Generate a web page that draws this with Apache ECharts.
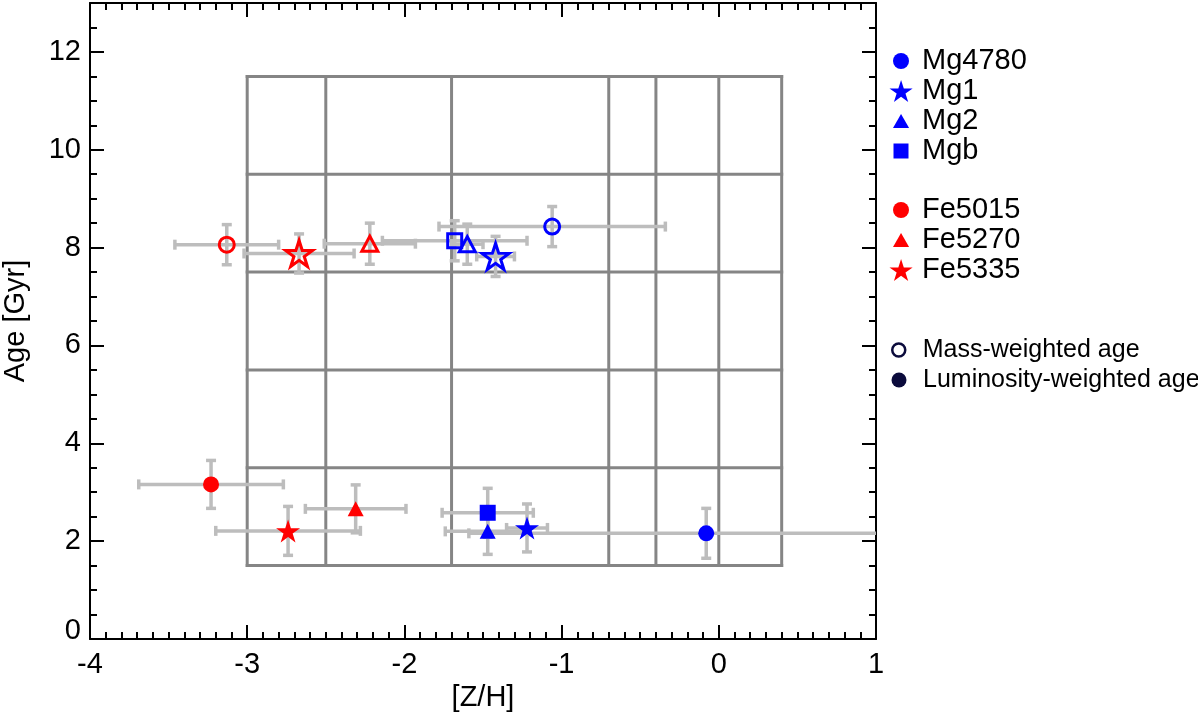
<!DOCTYPE html>
<html>
<head>
<meta charset="utf-8">
<title>Age vs [Z/H]</title>
<script src="https://cdn.jsdelivr.net/npm/echarts@6/dist/echarts.min.js"></script>
<style>
  html, body { margin: 0; padding: 0; background: #fff; }
  #chart { width: 1198px; height: 717px; }
</style>
</head>
<body>
<div id="chart"></div>
<script>
// line-strength indices used for the fits
const indexNames = ['Mg4780', 'Mg1', 'Mg2', 'Mgb', 'Fe5015', 'Fe5270', 'Fe5335'];

// mass-weighted ages (open symbols)
const massZ      = [-1.06, -1.42, -1.60, -1.68, -3.13, -2.22, -2.67];
const massZErr   = [ 0.72,  0.12,  0.10,  0.46,  0.33,  0.29,  0.35];
const massAge    = [ 8.43,  7.82,  8.07,  8.14,  8.06,  8.08,  7.88];
const massAgeErr = [ 0.41,  0.41,  0.41,  0.41,  0.41,  0.42,  0.40];

// luminosity-weighted ages (filled symbols)
const lumZ      = [-0.08, -1.22, -1.47, -1.47, -3.23, -2.31, -2.74];
const lumZErr   = [ 1.51,  0.13,  0.27,  0.29,  0.46,  0.32,  0.46];
const lumAge    = [ 2.16,  2.27,  2.20,  2.58,  3.16,  2.66,  2.21];
const lumAgeErr = [ 0.51,  0.49,  0.47,  0.50,  0.49,  0.49,  0.50];

// SSP model grid
const gridZ   = [-3, -2.5, -1.7, -0.7, -0.4, 0, 0.4];
const gridAge = [1.5, 3.5, 5.5, 7.5, 9.5, 11.5];

const ageTypes = ['Mass-weighted age', 'Luminosity-weighted age'];

const FONT = "'Liberation Sans', Arial, Helvetica, sans-serif";
const STAR = 'path://M50,0L61.23,34.55L97.55,34.55L68.16,55.9L79.39,90.45L50,69.1L20.61,90.45L31.84,55.9L2.45,34.55L38.77,34.55Z';
const TRI = 'path://M50,0L100,87L0,87Z';
const SQ = 'path://M0,0L10,0L10,10L0,10Z';
const NAVY = '#0b0b3c';

const markerStyle = {
    Mg4780: { color: '#0000ff', shape: 'circle' },
    Mg1:    { color: '#0000ff', shape: 'star' },
    Mg2:    { color: '#0000ff', shape: 'triangle' },
    Mgb:    { color: '#0000ff', shape: 'square' },
    Fe5015: { color: '#ff0000', shape: 'circle' },
    Fe5270: { color: '#ff0000', shape: 'triangle' },
    Fe5335: { color: '#ff0000', shape: 'star' }
};
const chartSymbol = { circle: 'circle', star: STAR, triangle: 'triangle', square: 'rect' };
const openSize    = { circle: 15, star: [27, 26], triangle: [16, 15], square: 14 };
const filledSize  = { circle: 16, star: [24, 23], triangle: [16, 15], square: 16 };
const legendIcon  = { circle: 'circle', star: STAR, triangle: TRI, square: SQ };
const legendSize  = { circle: 16, star: 22, triangle: 14, square: 15 };
// drawn width of each legend icon (legend boxes are placed by what is drawn)
const legendDrawnW = { circle: 16, star: 23, triangle: 16, square: 15 };

// segments of the model grid, built from the grid values
const gridSegments = [];
gridZ.forEach(z => gridSegments.push([z, gridAge[0], z, gridAge[gridAge.length - 1]]));
gridAge.forEach(a => gridSegments.push([gridZ[0], a, gridZ[gridZ.length - 1], a]));

const errRows = [];
indexNames.forEach((n, i) => {
    errRows.push([massZ[i], massAge[i], massZErr[i], massAgeErr[i]]);
    errRows.push([lumZ[i], lumAge[i], lumZErr[i], lumAgeErr[i]]);
});

function renderGrid(params, api) {
    const p1 = api.coord([api.value(0), api.value(1)]);
    const p2 = api.coord([api.value(2), api.value(3)]);
    return {
        type: 'line',
        shape: { x1: p1[0], y1: p1[1], x2: p2[0], y2: p2[1] },
        style: { stroke: '#858585', lineWidth: 3, lineCap: 'square' }
    };
}

function renderErr(params, api) {
    const z = api.value(0), a = api.value(1), ez = api.value(2), ea = api.value(3);
    const l = api.coord([z - ez, a]);
    const r = api.coord([z + ez, a]);
    const t = api.coord([z, a + ea]);
    const b = api.coord([z, a - ea]);
    const cap = 5;
    const style = { stroke: '#bdbdbd', lineWidth: 3.5 };
    const seg = (x1, y1, x2, y2) => ({ type: 'line', shape: { x1, y1, x2, y2 }, style });
    return {
        type: 'group',
        children: [
            seg(l[0], l[1], r[0], r[1]),
            seg(l[0], l[1] - cap, l[0], l[1] + cap),
            seg(r[0], r[1] - cap, r[0], r[1] + cap),
            seg(t[0], t[1], b[0], b[1]),
            seg(t[0] - cap, t[1], t[0] + cap, t[1]),
            seg(b[0] - cap, b[1], b[0] + cap, b[1])
        ]
    };
}

const indexSeries = indexNames.map((n, i) => {
    const st = markerStyle[n];
    return {
        type: 'scatter',
        name: n,
        z: 5,
        symbol: chartSymbol[st.shape],
        itemStyle: { color: st.color, opacity: 1 },
        emphasis: { disabled: true },
        data: [
            {
                value: [massZ[i], massAge[i]],
                symbolSize: openSize[st.shape],
                itemStyle: { color: 'rgba(0,0,0,0)', borderColor: st.color, borderWidth: 3, opacity: 1 }
            },
            {
                value: [lumZ[i], lumAge[i]],
                symbolSize: filledSize[st.shape],
                itemStyle: { color: st.color, opacity: 1 }
            }
        ]
    };
});

const ageSeries = ageTypes.map(n => ({ type: 'scatter', name: n, data: [] }));

// one legend per row so each icon keeps its own size
const legends = [];
indexNames.forEach((n, i) => {
    const st = markerStyle[n];
    const cy = i < 4 ? 61 + 30 * i : 210 + 30 * (i - 4);
    legends.push({
        left: 901 - legendDrawnW[st.shape] / 2, top: cy - 15, padding: 0, itemGap: 0,
        itemWidth: 32, itemHeight: legendSize[st.shape],
        selectedMode: false,
        textStyle: { fontFamily: FONT, fontSize: 29, color: '#000', lineHeight: 30 },
        data: [{ name: n, icon: legendIcon[st.shape], itemStyle: { color: st.color, borderWidth: 0, opacity: 1 } }]
    });
});
ageTypes.forEach((n, i) => {
    const open = i === 0;
    legends.push({
        left: open ? 891 : 891.5, top: 350 + 30 * i - 15, padding: 0, itemGap: 0,
        itemWidth: 38, itemHeight: open ? 13 : 15,
        selectedMode: false,
        textStyle: { fontFamily: FONT, fontSize: 25, color: '#000', lineHeight: 30 },
        data: [{
            name: n, icon: 'circle',
            itemStyle: open
                ? { color: 'rgba(0,0,0,0)', borderColor: NAVY, borderWidth: 2.5, opacity: 1 }
                : { color: NAVY, borderWidth: 0, opacity: 1 }
        }]
    });
});

const axisLine = { show: true, onZero: false, lineStyle: { color: '#000', width: 2 } };
const noLine = { show: false, onZero: false };
const labelStyle = { fontFamily: FONT, fontSize: 29, color: '#000' };

const option = {
    animation: false,
    backgroundColor: '#fff',
    grid: { left: 90, right: 322, top: 3, bottom: 78, containLabel: false, outerBoundsMode: 'none' },
    legend: legends,
    xAxis: [
        {
            type: 'value', position: 'bottom', min: -4, max: 1, interval: 1,
            axisLine,
            axisTick: { inside: true, length: 14, lineStyle: { color: '#000', width: 2 } },
            minorTick: { show: true, splitNumber: 10, length: 7, lineStyle: { color: '#000', width: 2 } },
            splitLine: { show: false },
            axisLabel: Object.assign({ margin: 11 }, labelStyle),
            name: '[Z/H]', nameLocation: 'middle', nameGap: 41,
            nameTextStyle: labelStyle
        },
        {
            type: 'value', position: 'top', min: -4, max: 1, interval: 1,
            axisLine,
            axisTick: { inside: true, length: 14, lineStyle: { color: '#000', width: 2 } },
            minorTick: { show: true, splitNumber: 10, length: 7, lineStyle: { color: '#000', width: 2 } },
            splitLine: { show: false },
            axisLabel: { show: false }
        }
    ],
    yAxis: [
        {
            type: 'value', position: 'left', min: 0, max: 13, interval: 2,
            axisLine,
            axisTick: { inside: true, length: 14, lineStyle: { color: '#000', width: 2 } },
            splitLine: { show: false },
            axisLabel: Object.assign({
                margin: 9,
                // the 0 label sits a little above its tick, as in the original
                formatter: v => (v === 0 ? '{low|0}' : (v % 2 === 0 ? String(v) : '')),
                rich: { low: { fontFamily: FONT, fontSize: 29, color: '#000', padding: [0, 0, 16, 0] } }
            }, labelStyle),
            name: 'Age [Gyr]', nameLocation: 'middle', nameGap: 60,
            nameTextStyle: labelStyle
        },
        {
            type: 'value', position: 'left', min: 0, max: 13, interval: 0.5,
            axisLine: noLine,
            axisTick: { inside: true, length: 7, lineStyle: { color: '#000', width: 2 } },
            splitLine: { show: false },
            axisLabel: { show: false }
        },
        {
            type: 'value', position: 'right', min: 0, max: 13, interval: 2,
            axisLine,
            axisTick: { inside: true, length: 14, lineStyle: { color: '#000', width: 2 } },
            splitLine: { show: false },
            axisLabel: { show: false }
        },
        {
            type: 'value', position: 'right', min: 0, max: 13, interval: 0.5,
            axisLine: noLine,
            axisTick: { inside: true, length: 7, lineStyle: { color: '#000', width: 2 } },
            splitLine: { show: false },
            axisLabel: { show: false }
        }
    ],
    series: [
        {
            type: 'custom',
            z: 1,
            renderItem: renderGrid,
            encode: { x: [0, 2], y: [1, 3] },
            data: gridSegments,
            silent: true
        },
        {
            type: 'custom',
            z: 2,
            clip: true,
            renderItem: renderErr,
            encode: { x: 0, y: 1 },
            data: errRows,
            silent: true
        }
    ].concat(indexSeries, ageSeries)
};

const chart = echarts.init(document.getElementById('chart'), null, { renderer: 'canvas' });
chart.setOption(option);
</script>
</body>
</html>
